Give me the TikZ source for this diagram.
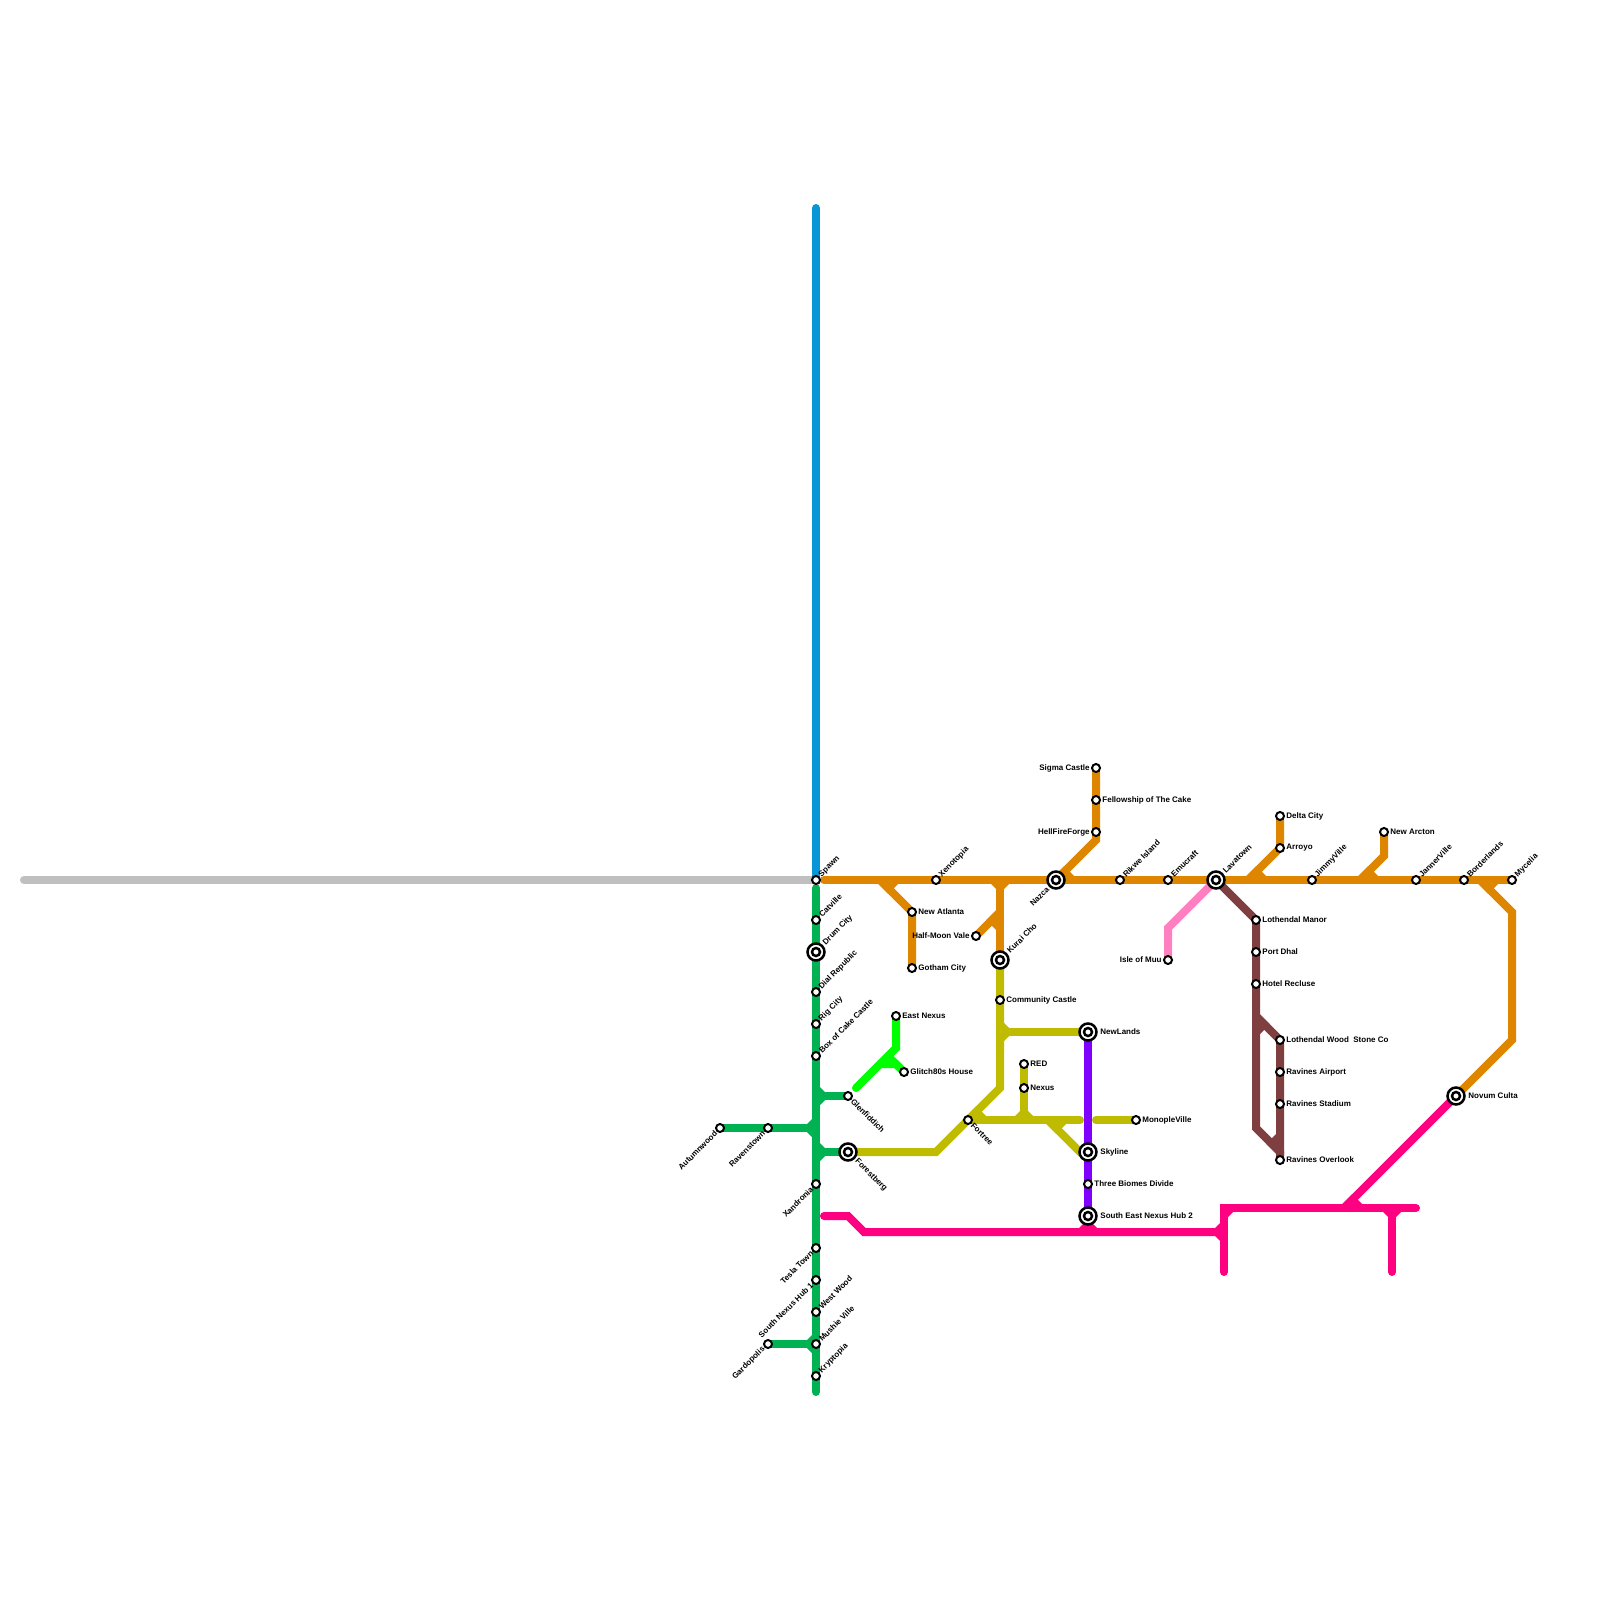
\documentclass[tikz,border=0pt]{standalone}
\usepackage{fontspec}
\setmainfont{Liberation Sans}
\usepackage{xcolor}
\usetikzlibrary{backgrounds}
\definecolor{LineGrey}{HTML}{BFBFBF}
\definecolor{LineBlue}{HTML}{0896D7}
\definecolor{LineGreen}{HTML}{00B251}
\definecolor{LineLime}{HTML}{00FF00}
\definecolor{LineOrange}{HTML}{DF8600}
\definecolor{LineOlive}{HTML}{BFBB00}
\definecolor{LinePurple}{HTML}{8000FF}
\definecolor{LineHot}{HTML}{FF0080}
\definecolor{LinePink}{HTML}{FF80C0}
\definecolor{LineBrown}{HTML}{7F3F41}
\tikzset{
  route/.style={line width=4pt,line cap=round},
  stop/.style={circle,draw=black,fill=white,line width=1pt,minimum size=4pt,inner sep=0pt,outer sep=0pt},
  hubring/.style={circle,draw=black,fill=white,line width=1.25pt,minimum size=8.5pt,inner sep=0pt,outer sep=0pt},
  hubcore/.style={circle,draw=black,fill=white,line width=1.25pt,minimum size=4pt,inner sep=0pt,outer sep=0pt},
  lbl/.style={font=\fontsize{4pt}{4.8pt}\selectfont\bfseries,inner sep=0pt,text=black},
  lblE/.style={lbl,anchor=west,xshift=3pt},
  lblW/.style={lbl,anchor=east,xshift=-3pt},
  lblNE/.style={lbl,xshift=2pt,yshift=2pt,rotate=45,anchor=west},
  lblSE/.style={lbl,xshift=2pt,yshift=-2pt,rotate=-45,anchor=west},
  lblSW/.style={lbl,xshift=-2pt,yshift=-2pt,rotate=45,anchor=east},
  lblHE/.style={lbl,anchor=west,xshift=6pt},
  lblHNE/.style={lbl,xshift=4pt,yshift=4pt,rotate=45,anchor=west},
  lblHSE/.style={lbl,xshift=4pt,yshift=-4pt,rotate=-45,anchor=west},
  lblHSW/.style={lbl,xshift=-4pt,yshift=-4pt,rotate=45,anchor=east},
}
\begin{document}
\begin{tikzpicture}[x=0.5pt,y=-0.5pt]
  \useasboundingbox (0,0) rectangle (1600,1600);
  % interchange stations
  \foreach \name/\x/\y/\side/\txt in {
    DrumCity/816/952/lblHNE/Drum City, Forestberg/848/1152/lblHSE/Forestberg,
    KuraiCho/1000/960/lblHNE/Kurai Cho, Nazca/1056/880/lblHSW/Nazca,
    Lavatown/1216/880/lblHNE/Lavatown, NewLands/1088/1032/lblHE/NewLands,
    Skyline/1088/1152/lblHE/Skyline, SouthEastHub/1088/1216/lblHE/South East Nexus Hub 2,
    NovumCulta/1456/1096/lblHE/Novum Culta}{
    \node[hubring] (\name Ring) at (\x,\y) {};
    \node[hubcore] (\name) at (\x,\y) {};
    \node[\side] (\name Lbl) at (\x,\y) {\txt};
  }
  % plain stations
  \foreach \name/\x/\y/\side/\txt in {
    Spawn/816/880/lblNE/Spawn, Catville/816/920/lblNE/Catville,
    DialRepublic/816/992/lblNE/Dial Republic, RigCity/816/1024/lblNE/Rig City,
    BoxCake/816/1056/lblNE/Box of Cake Castle, Glenfiddich/848/1096/lblSE/Glenfiddich,
    Autumnwood/720/1128/lblSW/Autumnwood, Ravenstown/768/1128/lblSW/Ravenstown,
    Xandronia/816/1184/lblSW/Xandronia, TeslaTown/816/1248/lblSW/Tesla Town,
    SouthHub/816/1280/lblSW/South Nexus Hub 1, WestWood/816/1312/lblNE/West Wood,
    MushieVille/816/1344/lblNE/Mushie Ville, Kryptopia/816/1376/lblNE/Kryptopia,
    Gardopolis/768/1344/lblSW/Gardopolis,
    NewAtlanta/912/912/lblE/New Atlanta, GothamCity/912/968/lblE/Gotham City,
    HalfMoon/976/936/lblW/Half-Moon Vale, Xenotopia/936/880/lblNE/Xenotopia,
    Community/1000/1000/lblE/Community Castle, EastNexus/896/1016/lblE/East Nexus,
    Glitch/904/1072/lblE/Glitch80s House, Fortree/968/1120/lblSE/Fortree,
    Red/1024/1064/lblE/RED, Nexus/1024/1088/lblE/Nexus,
    ThreeBiomes/1088/1184/lblE/Three Biomes Divide, Monople/1136/1120/lblE/MonopleVille,
    Sigma/1096/768/lblW/Sigma Castle, Fellowship/1096/800/lblE/Fellowship of The Cake,
    HellFire/1096/832/lblW/HellFireForge, Rikwe/1120/880/lblNE/Rikwe Island,
    Emucraft/1168/880/lblNE/Emucraft, IsleMuu/1168/960/lblW/Isle of Muu,
    DeltaCity/1280/816/lblE/Delta City, Arroyo/1280/848/lblE/Arroyo,
    JimmyVille/1312/880/lblNE/JimmyVille, NewArcton/1384/832/lblE/New Arcton,
    JannerVille/1416/880/lblNE/JannerVille, Borderlands/1464/880/lblNE/Borderlands,
    Mycelia/1512/880/lblNE/Mycelia, LothManor/1256/920/lblE/Lothendal Manor,
    PortDhal/1256/952/lblE/Port Dhal, HotelRecluse/1256/984/lblE/Hotel Recluse,
    LothWood/1280/1040/lblE/Lothendal Wood\ \ Stone Co, RavAirport/1280/1072/lblE/Ravines Airport,
    RavStadium/1280/1104/lblE/Ravines Stadium, RavOverlook/1280/1160/lblE/Ravines Overlook}{
    \node[stop] (\name) at (\x,\y) {};
    \node[\side] (\name Lbl) at (\x,\y) {\txt};
  }
  % bends and free ends
  \foreach \name/\x/\y in {
    GreyEnd/24/880, BlueEnd/816/208, GreenTop/816/888, GreenEnd/816/1392,
    GreenGlen/816/1096, GreenWest/816/1128, GreenFor/816/1152, GreenGard/816/1344,
    LimeEnd/856/1088, LimeBend/896/1048, LimeFork/880/1064, LimeKink/896/1064, LimeNotch/888/1056,
    OrangeTop/824/880, OrangeAtl/880/880, OrangeKurai/1000/880, OrangeHalf/1000/912,
    OrangeHell/1096/840, OrangeArroyo/1248/880, OrangeArcton/1360/880, OrangeBendA/1384/856,
    OrangeSide/1480/880, OrangeBendB/1512/912, OrangeBendC/1512/1040,
    OliveBendA/936/1152, OliveBendB/1000/1088, OliveFork/1000/1032, OliveEnd/1080/1120,
    OliveMid/1024/1120, OliveSky/1048/1120, OliveBendC/1080/1152, OliveStart/1096/1120,
    PinkBend/1168/928, BrownFork/1256/1016, BrownBendA/1256/1128, BrownBendB/1280/1152,
    HotStart/824/1216, HotBendA/848/1216, HotBendB/864/1232, HotFork/1224/1232,
    HotCorner/1224/1208, HotFoot/1224/1272, HotEnd/1416/1208, HotLeg/1392/1208,
    HotLegFoot/1392/1272, HotDiag/1344/1208}{
    \coordinate (\name) at (\x,\y);
  }
  \begin{scope}[on background layer]
    \draw[route,LineGrey] (GreyEnd) -- (Spawn);
    \draw[route,LineBlue] (BlueEnd) -- (Spawn);
    \draw[route,LinePink] (Lavatown) -- (PinkBend) -- (IsleMuu);
    \draw[route,LineBrown] (Lavatown) -- (LothManor) -- (BrownBendA) -- (BrownBendB) -- (RavOverlook);
    \draw[route,LineBrown] (BrownFork) -- (LothWood) -- (RavOverlook);
    \draw[route,LineGreen] (GreenTop) -- (GreenEnd);
    \draw[route,LineGreen] (GreenGlen) -- (Glenfiddich);
    \draw[route,LineGreen] (Autumnwood) -- (GreenWest);
    \draw[route,LineGreen] (GreenFor) -- (Forestberg);
    \draw[route,LineGreen] (Gardopolis) -- (GreenGard);
    \draw[route,LineLime] (EastNexus) -- (LimeBend) -- (LimeEnd);
    \draw[route,LineLime] (LimeFork) -- (LimeKink) -- (Glitch);
    \draw[route,LineLime] (LimeNotch) -- (Glitch);
    \draw[route,LinePurple] (NewLands) -- (SouthEastHub);
    \draw[route,LineOlive] (Forestberg) -- (OliveBendA) -- (OliveBendB) -- (KuraiCho);
    \draw[route,LineOlive] (OliveFork) -- (NewLands);
    \draw[route,LineOlive] (Fortree) -- (OliveEnd);
    \draw[route,LineOlive] (Red) -- (OliveMid);
    \draw[route,LineOlive] (OliveSky) -- (OliveBendC) -- (Skyline);
    \draw[route,LineOlive] (OliveStart) -- (Monople);
    \draw[route,LineHot] (HotStart) -- (HotBendA) -- (HotBendB) -- (HotFork);
    \draw[route,LineHot] (HotEnd) -- (HotCorner) -- (HotFoot);
    \draw[route,LineHot] (HotLeg) -- (HotLegFoot);
    \draw[route,LineHot] (HotDiag) -- (NovumCulta);
    \draw[route,LineOrange] (OrangeTop) -- (Mycelia);
    \draw[route,LineOrange] (OrangeAtl) -- (NewAtlanta) -- (GothamCity);
    \draw[route,LineOrange] (OrangeKurai) -- (KuraiCho);
    \draw[route,LineOrange] (HalfMoon) -- (OrangeHalf);
    \draw[route,LineOrange] (Nazca) -- (OrangeHell) -- (Sigma);
    \draw[route,LineOrange] (OrangeArroyo) -- (Arroyo) -- (DeltaCity);
    \draw[route,LineOrange] (OrangeArcton) -- (OrangeBendA) -- (NewArcton);
    \draw[route,LineOrange] (OrangeSide) -- (OrangeBendB) -- (OrangeBendC) -- (NovumCulta);
    % wedges where a branch leaves at a right angle
    \foreach \col/\x/\y/\turn in {
      LineGreen/816/1096/90, LineGreen/816/1152/90, LineGreen/816/1128/-90, LineGreen/816/1344/-90,
      LineOrange/1000/880/0, LineOlive/1000/1032/90, LineOlive/1024/1120/180,
      LineHot/1224/1232/-90, LineHot/1392/1208/0, LineHot/1088/1232/180}{
      \fill[\col,shift={(\x,\y)},rotate=\turn] (-13,0) -- (13,0) -- (0,13) -- cycle;
    }
    \fill[LineHot] (HotCorner) -- ++(13,0) -- ++(-13,13) -- cycle;
    % wedges where a branch leaves on the diagonal
    \foreach \col/\x/\y/\turn/\flip in {
      LineOrange/880/880/0/1, LineOrange/1480/880/0/1, LineOrange/1056/880/0/-1,
      LineOrange/1248/880/0/-1, LineOrange/1360/880/0/-1, LineOrange/1000/912/-90/1,
      LineOlive/968/1120/0/-1, LineOlive/1048/1120/0/1, LineHot/1344/1208/0/-1,
      LineBrown/1256/1016/-90/-1, LineBrown/1280/1152/90/-1}{
      \fill[\col,shift={(\x,\y)},rotate=\turn,yscale=\flip] (-5.7,0) -- (22,0) -- (8.2,13.8) -- cycle;
    }
  \end{scope}
\end{tikzpicture}
\end{document}
